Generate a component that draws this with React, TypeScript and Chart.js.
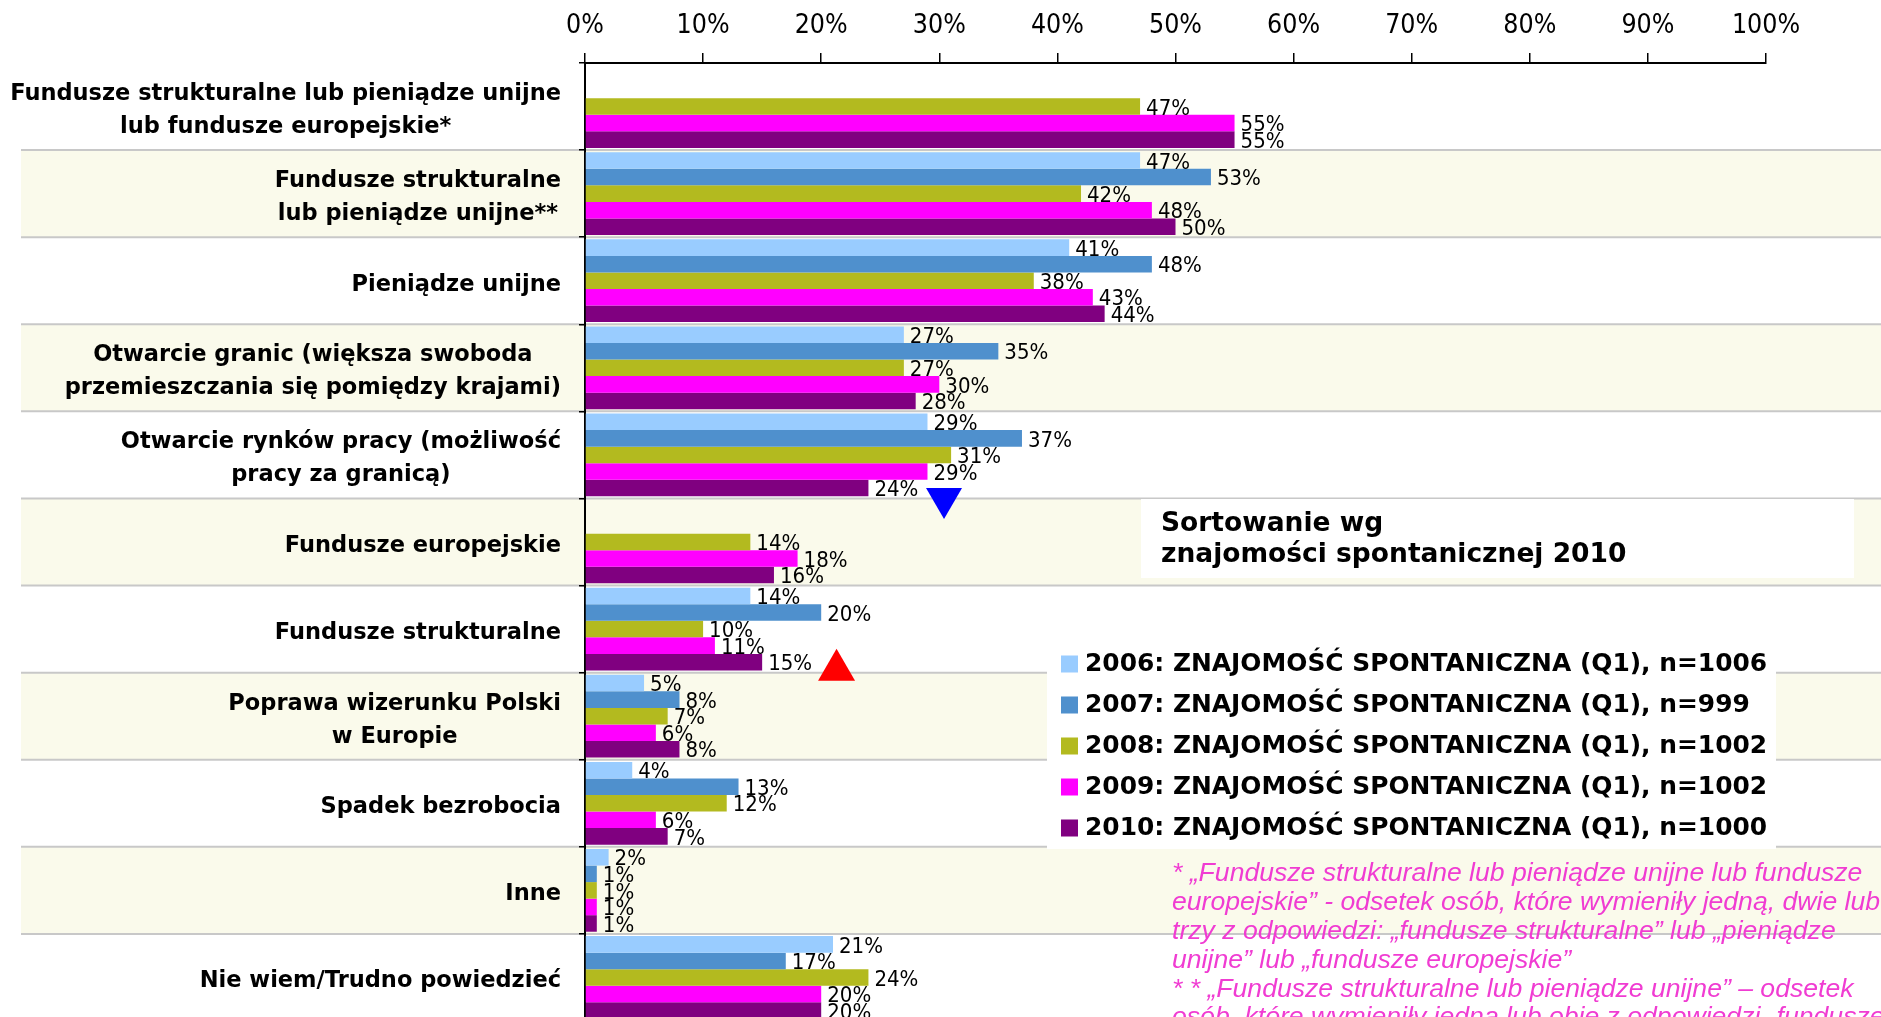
import React, { useEffect, useRef } from "react";
import { Chart, registerables } from "chart.js";

Chart.register(...registerables);

// ---------- data ----------
const categories: string[][] = [
  ["Fundusze strukturalne lub pieniądze unijne", "lub fundusze europejskie*"],
  ["Fundusze strukturalne", "lub pieniądze unijne**"],
  ["Pieniądze unijne"],
  ["Otwarcie granic (większa swoboda", "przemieszczania się pomiędzy krajami)"],
  ["Otwarcie rynków pracy (możliwość", "pracy za granicą)"],
  ["Fundusze europejskie"],
  ["Fundusze strukturalne"],
  ["Poprawa wizerunku Polski", "w Europie"],
  ["Spadek bezrobocia"],
  ["Inne"],
  ["Nie wiem/Trudno powiedzieć"],
];

const seriesNames = [
  "2006: ZNAJOMOŚĆ SPONTANICZNA (Q1), n=1006",
  "2007: ZNAJOMOŚĆ SPONTANICZNA (Q1), n=999",
  "2008: ZNAJOMOŚĆ SPONTANICZNA (Q1), n=1002",
  "2009: ZNAJOMOŚĆ SPONTANICZNA (Q1), n=1002",
  "2010: ZNAJOMOŚĆ SPONTANICZNA (Q1), n=1000",
];

const values2006 = [null, 47, 41, 27, 29, null, 14, 5, 4, 2, 21];
const values2007 = [null, 53, 48, 35, 37, null, 20, 8, 13, 1, 17];
const values2008 = [47, 42, 38, 27, 31, 14, 10, 7, 12, 1, 24];
const values2009 = [55, 48, 43, 30, 29, 18, 11, 6, 6, 1, 20];
const values2010 = [55, 50, 44, 28, 24, 16, 15, 8, 7, 1, 20];

const seriesValues = [values2006, values2007, values2008, values2009, values2010];
const seriesColors = ["#99CCFF", "#4F90CD", "#B3BA1F", "#FF00FF", "#800080"];

const xMin = 0;
const xMax = 100;
const xStep = 10;

const sortNote = ["Sortowanie wg", "znajomości spontanicznej 2010"];

const footnoteLines = [
  "* „Fundusze strukturalne lub pieniądze unijne lub fundusze",
  "europejskie” - odsetek osób, które wymieniły jedną, dwie lub",
  "trzy z odpowiedzi: „fundusze strukturalne” lub „pieniądze",
  "unijne” lub „fundusze europejskie”",
  "* * „Fundusze strukturalne lub pieniądze unijne” – odsetek",
  "osób, które wymieniły jedną lub obie z odpowiedzi „fundusze strukturalne”",
];

// markers: [value on x axis, position on category axis]
const downMarker = [30.4, 4.5];
const upMarker = [21.3, 6.5];

// ---------- styling ----------
const W = 1881;
const H = 1021;
const stripeColor = "#FAFAEB";
const sepColor = "#C8C8C8";
const boldFont = "'DejaVu Sans', Verdana, sans-serif";
const condFont = "'DejaVu Sans Condensed', 'DejaVu Sans', sans-serif";

const decorPlugin = {
  id: "decor",
  beforeDraw(chart: any) {
    const { ctx } = chart;
    const ys = chart.scales.y;
    ctx.save();
    ctx.fillStyle = "#FFFFFF";
    ctx.fillRect(0, 0, W, H);
    const step = ys.getPixelForValue(1) - ys.getPixelForValue(0);
    for (let i = 0; i < categories.length; i++) {
      const c = ys.getPixelForValue(i);
      if (i % 2 === 1) {
        ctx.fillStyle = stripeColor;
        ctx.fillRect(21, c - step / 2, W - 21, step);
      }
    }
    ctx.strokeStyle = sepColor;
    ctx.lineWidth = 2;
    for (let i = 0; i < categories.length; i++) {
      const b = ys.getPixelForValue(i) + step / 2;
      ctx.beginPath();
      ctx.moveTo(21, b);
      ctx.lineTo(W, b);
      ctx.stroke();
    }
    // category labels
    ctx.fillStyle = "#000";
    ctx.font = `bold 22.5px ${boldFont}`;
    ctx.textAlign = "center";
    ctx.textBaseline = "middle";
    const rightEdge = 561;
    categories.forEach((lines, i) => {
      const c = ys.getPixelForValue(i);
      let maxW = 0;
      lines.forEach((l) => (maxW = Math.max(maxW, ctx.measureText(l).width)));
      const cx = rightEdge - maxW / 2;
      lines.forEach((l, j) => {
        const y = c + (j - (lines.length - 1) / 2) * 33 + 4;
        ctx.fillText(l, cx, y);
      });
    });
    ctx.restore();
  },
  afterDatasetsDraw(chart: any) {
    const { ctx } = chart;
    ctx.save();
    ctx.fillStyle = "#000";
    ctx.font = `22px ${condFont}`;
    ctx.textAlign = "left";
    ctx.textBaseline = "middle";
    chart.data.datasets.forEach((ds: any, di: number) => {
      const meta = chart.getDatasetMeta(di);
      meta.data.forEach((el: any, i: number) => {
        const v = ds.data[i];
        if (v === null || v === undefined) return;
        ctx.fillText(`${v}%`, el.x + 6, el.y + 2.5);
      });
    });
    ctx.restore();
  },
  afterDraw(chart: any) {
    const { ctx } = chart;
    const xs = chart.scales.x;
    const ys = chart.scales.y;
    ctx.save();

    // sort note box
    ctx.fillStyle = "#FFFFFF";
    ctx.fillRect(1141, 499, 713, 79);
    ctx.fillStyle = "#000";
    ctx.font = `bold 26.5px ${boldFont}`;
    ctx.textAlign = "left";
    ctx.textBaseline = "middle";
    sortNote.forEach((t, j) => ctx.fillText(t, 1161, 524 + j * 31));

    // legend
    ctx.fillStyle = "#FFFFFF";
    ctx.fillRect(1047, 641, 729, 208);
    ctx.font = `bold 24.9px ${boldFont}`;
    seriesNames.forEach((n, i) => {
      const y = 664 + i * 41;
      ctx.fillStyle = seriesColors[i];
      ctx.fillRect(1061, y - 8.5, 17, 17);
      ctx.fillStyle = "#000";
      ctx.fillText(n, 1085, y + 1);
    });

    // markers
    const dx = xs.getPixelForValue(downMarker[0]);
    const dy = ys.getPixelForValue(downMarker[1]) + 5;
    ctx.fillStyle = "#0000FF";
    ctx.beginPath();
    ctx.moveTo(dx - 18, dy - 15.5);
    ctx.lineTo(dx + 18, dy - 15.5);
    ctx.lineTo(dx, dy + 15.5);
    ctx.closePath();
    ctx.fill();

    const ux = xs.getPixelForValue(upMarker[0]);
    const uy = ys.getPixelForValue(upMarker[1]) - 8;
    ctx.fillStyle = "#FF0000";
    ctx.beginPath();
    ctx.moveTo(ux, uy - 16);
    ctx.lineTo(ux + 18.5, uy + 16);
    ctx.lineTo(ux - 18.5, uy + 16);
    ctx.closePath();
    ctx.fill();

    // footnote
    ctx.fillStyle = "#F03CD2";
    ctx.font = `italic 26.6px 'Liberation Sans', Arial, sans-serif`;
    footnoteLines.forEach((t, j) => ctx.fillText(t, 1172, 874 + j * 28.8));
    ctx.restore();
  },
};

export default function App() {
  const ref = useRef<HTMLCanvasElement | null>(null);
  useEffect(() => {
    if (!ref.current) return;
    const chart = new Chart(ref.current, {
      type: "bar",
      data: {
        labels: categories.map((c) => c.join(" ")),
        datasets: seriesValues.map((vals, i) => ({
          label: seriesNames[i],
          data: vals as any,
          backgroundColor: seriesColors[i],
          borderWidth: 0,
          barPercentage: 1,
          categoryPercentage: 0.95,
        })),
      },
      options: {
        indexAxis: "y",
        responsive: false,
        maintainAspectRatio: false,
        animation: false,
        devicePixelRatio: 1,
        layout: { padding: { left: 0, right: 115, top: 0, bottom: 0 } },
        plugins: { legend: { display: false }, tooltip: { enabled: false } },
        scales: {
          x: {
            position: "top",
            min: xMin,
            max: xMax,
            ticks: {
              stepSize: xStep,
              callback: (v: any) => `${v}%`,
              font: { family: condFont, size: 26.5 },
              color: "#000",
              padding: 11,
              maxRotation: 0,
              autoSkip: false,
            },
            grid: {
              drawOnChartArea: false,
              drawTicks: true,
              tickLength: 10,
              color: "#000",
              lineWidth: 1.5,
            },
            border: { display: true, color: "#000", width: 2 },
            afterFit: (s: any) => {
              s.height = 63;
            },
          },
          y: {
            ticks: { display: false },
            grid: {
              offset: true,
              drawOnChartArea: false,
              drawTicks: true,
              tickLength: 6,
              color: "#000",
              lineWidth: 1.5,
            },
            border: { display: true, color: "#000", width: 2 },
            afterFit: (s: any) => {
              s.width = 585;
            },
          },
        },
      } as any,
      plugins: [decorPlugin],
    });
    return () => chart.destroy();
  }, []);

  return (
    <div
      style={{
        position: "fixed",
        left: 0,
        top: 0,
        width: W,
        height: 1017,
        overflow: "hidden",
        background: "#fff",
      }}
    >
      <canvas ref={ref} width={W} height={H} style={{ width: W, height: H, display: "block" }} />
    </div>
  );
}
